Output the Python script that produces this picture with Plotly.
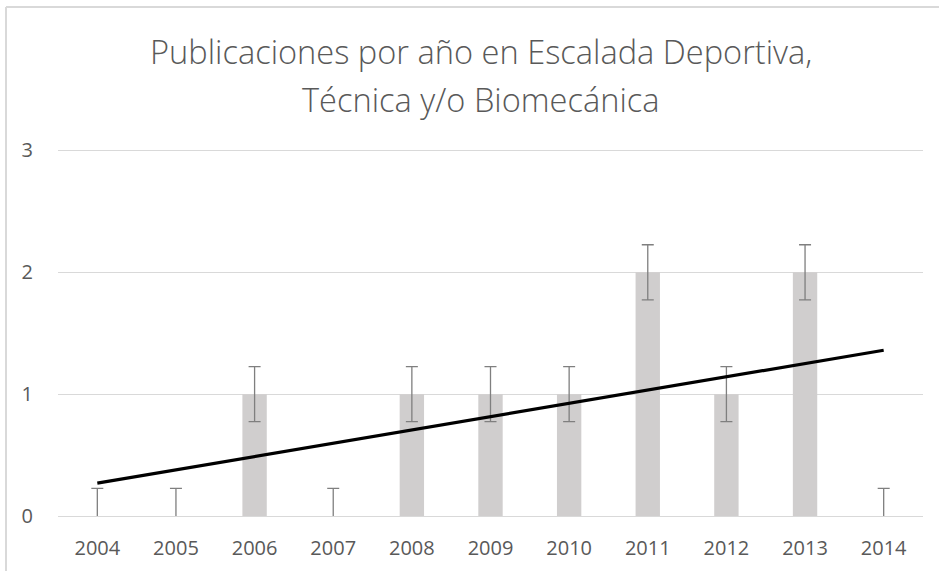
import plotly.graph_objects as go

years = ["2004", "2005", "2006", "2007", "2008", "2009", "2010", "2011", "2012", "2013", "2014"]
publicaciones = [0, 0, 1, 0, 1, 1, 1, 2, 1, 2, 0]
error_std = [0.226] * len(years)
trend_x = ["2004", "2014"]
trend_y = [0.27, 1.36]
y_ticks = [0, 1, 2, 3]
title_lines = ["Publicaciones por año en Escalada Deportiva,", "Técnica y/o Biomecánica"]

W, H = 939, 571
L, R, T, B = 58, 16, 148, 55
pw, ph = W - L - R, H - T - B

def px_x(px):
    return (px - L) / pw

def px_y(py):
    return (H - B - py) / ph

FONT = "Open Sans, sans-serif"
TXT = "#595959"
GRID = "#d9d9d9"

fig = go.Figure()
fig.add_trace(go.Bar(
    x=years, y=publicaciones, width=0.31,
    marker=dict(color="#d0cece", line=dict(width=0)),
    error_y=dict(type="data", array=error_std, symmetric=True,
                 color="#7f7f7f", thickness=1.3, width=6),
    showlegend=False, hoverinfo="x+y",
))
fig.add_trace(go.Scatter(
    x=trend_x, y=trend_y, mode="lines",
    line=dict(color="black", width=3.2),
    showlegend=False, hoverinfo="skip",
))

annotations = []
for txt, cy in zip(title_lines, [51, 99]):
    annotations.append(dict(
        text=txt, xref="paper", yref="paper", x=px_x(481), y=px_y(cy),
        xanchor="center", yanchor="middle", showarrow=False,
        font=dict(family=FONT, size=32.6, color=TXT, weight=300),
    ))

fig.update_layout(
    width=W, height=H,
    margin=dict(l=L, r=R, t=T, b=B, pad=0),
    paper_bgcolor="white", plot_bgcolor="white",
    font=dict(family=FONT, color=TXT, size=20),
    xaxis=dict(type="category", showgrid=False, showline=False, zeroline=False,
               automargin=False,
               ticks="outside", ticklen=14, tickcolor="rgba(0,0,0,0)",
               tickfont=dict(size=20, color=TXT, family=FONT)),
    yaxis=dict(range=[0, 3.02], tickvals=y_ticks, showgrid=True, gridcolor=GRID, gridwidth=1,
               zeroline=True, zerolinecolor=GRID, zerolinewidth=1, showline=False,
               automargin=False,
               ticks="outside", ticklen=20, tickcolor="rgba(0,0,0,0)",
               tickfont=dict(size=20, color=TXT, family=FONT)),
    annotations=annotations,
    shapes=[
        dict(type="line", xref="paper", yref="paper",
             x0=px_x(6), x1=px_x(W + 10), y0=px_y(7), y1=px_y(7),
             line=dict(color=GRID, width=2)),
        dict(type="line", xref="paper", yref="paper",
             x0=px_x(6), x1=px_x(6), y0=px_y(7), y1=px_y(H + 10),
             line=dict(color=GRID, width=2)),
    ],
)

fig.write_html("out.html", config={"displayModeBar": False},
               post_script="document.body.style.margin='0';document.body.style.padding='0';")
